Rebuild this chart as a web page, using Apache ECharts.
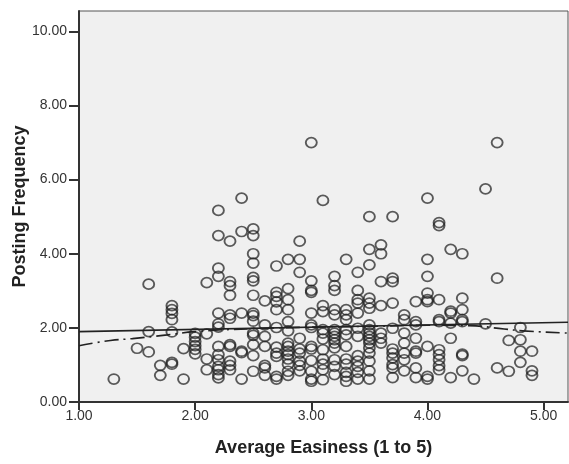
<!DOCTYPE html>
<html>
<head>
<meta charset="utf-8">
<script src="https://cdn.jsdelivr.net/npm/echarts@6/dist/echarts.min.js"></script>
<style>
html,body{margin:0;padding:0;background:#fff;}
#c{width:569px;height:464px;}
</style>
</head>
<body>
<div id="c"></div>
<script>
// Average Easiness levels (x) and the Posting Frequency values observed at each level (y)
const easinessLevels = [1.3, 1.5, 1.6, 1.7, 1.8, 1.9, 2.0, 2.1, 2.2, 2.3, 2.4, 2.5, 2.6, 2.7, 2.8, 2.9, 3.0, 3.1, 3.2, 3.3, 3.4, 3.5, 3.6, 3.7, 3.8, 3.9, 4.0, 4.1, 4.2, 4.3, 4.4, 4.5, 4.6, 4.7, 4.8, 4.9];
const postingByLevel = [
  [0.62],
  [1.45],
  [3.18, 1.90, 1.35],
  [0.99, 0.72],
  [2.60, 2.49, 2.39, 2.22, 1.89, 1.07, 1.02],
  [1.44, 0.62],
  [1.85, 1.75, 1.63, 1.52, 1.42, 1.30],
  [3.22, 1.84, 1.16, 0.87],
  [5.17, 4.49, 3.61, 3.39, 2.40, 2.11, 2.02, 1.50, 1.28, 1.14, 0.96, 0.87, 0.74, 0.65],
  [4.34, 3.25, 3.14, 2.88, 2.35, 2.26, 1.55, 1.50, 1.10, 0.99, 0.87],
  [5.50, 4.60, 2.40, 1.37, 1.33, 0.62],
  [4.67, 4.49, 4.00, 3.75, 3.36, 3.27, 2.88, 2.40, 2.33, 2.18, 1.86, 1.80, 1.55, 1.25, 0.83],
  [2.73, 2.08, 1.77, 1.50, 0.99, 0.92, 0.72],
  [3.67, 2.96, 2.85, 2.70, 2.49, 2.01, 1.48, 1.32, 1.23, 0.69, 0.62],
  [3.85, 3.06, 2.76, 2.49, 2.17, 1.92, 1.59, 1.50, 1.37, 1.28, 1.16, 1.02, 0.83, 0.72],
  [4.34, 3.85, 3.50, 1.72, 1.43, 1.32, 1.10, 0.99, 0.84],
  [7.00, 3.27, 3.01, 2.96, 2.40, 2.08, 2.01, 1.50, 1.43, 1.12, 0.83, 0.62, 0.56],
  [5.44, 2.60, 2.44, 1.95, 1.86, 1.70, 1.41, 1.16, 1.02, 0.87, 0.60],
  [3.39, 3.14, 3.01, 2.49, 2.35, 1.95, 1.86, 1.77, 1.68, 1.59, 1.46, 1.14, 0.96, 0.74],
  [3.85, 2.49, 2.35, 2.22, 1.95, 1.81, 1.50, 1.16, 1.02, 0.80, 0.69, 0.56],
  [3.50, 3.01, 2.76, 2.67, 2.40, 1.99, 1.77, 1.25, 1.10, 0.96, 0.80, 0.62],
  [5.00, 4.12, 3.70, 2.80, 2.67, 2.53, 2.08, 1.95, 1.86, 1.77, 1.68, 1.59, 1.46, 1.32, 1.10, 0.84, 0.62],
  [4.24, 4.00, 3.25, 2.60, 1.86, 1.72, 1.59],
  [5.00, 3.34, 3.25, 2.67, 1.99, 1.43, 1.32, 1.19, 1.01, 0.92, 0.66],
  [2.35, 2.22, 1.86, 1.59, 1.32, 1.14, 0.84],
  [2.71, 2.17, 2.08, 1.72, 1.37, 1.32, 0.92, 0.66],
  [5.50, 3.85, 3.39, 2.94, 2.76, 2.71, 1.50, 0.69, 0.62],
  [4.84, 4.76, 2.76, 2.22, 2.17, 1.41, 1.28, 1.14, 0.98, 0.87],
  [4.12, 2.45, 2.40, 2.13, 1.72, 0.66],
  [4.00, 2.80, 2.49, 2.22, 2.17, 1.29, 1.25, 0.84],
  [0.62],
  [5.75, 2.11],
  [7.00, 3.34, 0.92],
  [1.66, 0.83],
  [2.01, 1.68, 1.37, 1.07],
  [1.37, 0.84, 0.72]
];
// Linear fit line (solid)
const linearFitX = [1.0, 5.21];
const linearFitY = [1.90, 2.15];
// Loess fit line (dash-dot)
const loessX = [1.0, 1.27, 1.46, 1.76, 2.0, 2.5, 3.0, 3.5, 4.0, 4.35, 4.66, 4.82, 5.21];
const loessY = [1.52, 1.66, 1.71, 1.81, 1.90, 1.98, 2.02, 2.04, 2.07, 2.06, 1.97, 1.92, 1.86];
// Axis ticks
const xTicks = [1, 2, 3, 4, 5];
const yTicks = [0, 2, 4, 6, 8, 10];

const points = [];
easinessLevels.forEach((x, i) => postingByLevel[i].forEach(y => points.push([x, y])));
const zip = (a, b) => a.map((v, i) => [v, b[i]]);

const FONT = 'Liberation Sans, Arial, sans-serif';
const chart = echarts.init(document.getElementById('c'), null, {renderer: 'canvas'});
chart.setOption({
  animation: false,
  backgroundColor: '#ffffff',
  grid: {left: 79, right: 1, top: 11, bottom: 62, containLabel: false, outerBoundsMode: 'none',
         show: true, backgroundColor: '#f0f0f0', borderColor: '#555', borderWidth: 1},
  xAxis: {
    type: 'value', min: 1, max: 5.21,
    name: 'Average Easiness (1 to 5)', nameLocation: 'middle', nameGap: 37, nameMoveOverlap: false,
    nameTextStyle: {fontFamily: FONT, fontSize: 18, fontWeight: 'bold', color: '#222'},
    axisLine: {show: true, lineStyle: {color: '#333', width: 2}},
    axisTick: {show: true, length: 8, lineStyle: {color: '#333', width: 2}, customValues: xTicks},
    axisLabel: {fontFamily: FONT, fontSize: 14, color: '#333', margin: 7, customValues: xTicks, formatter: v => v.toFixed(2)},
    splitLine: {show: false}
  },
  yAxis: {
    type: 'value', min: 0, max: 10.55,
    name: 'Posting Frequency', nameLocation: 'middle', nameGap: 50, nameMoveOverlap: false,
    nameTextStyle: {fontFamily: FONT, fontSize: 18, fontWeight: 'bold', color: '#222'},
    axisLine: {show: true, lineStyle: {color: '#333', width: 2}},
    axisTick: {show: true, length: 10, lineStyle: {color: '#333', width: 2}, customValues: yTicks},
    axisLabel: {fontFamily: FONT, fontSize: 14, color: '#333', margin: 12, customValues: yTicks, formatter: v => v.toFixed(2)},
    splitLine: {show: false}
  },
  series: [
    {
      type: 'scatter', data: points, symbol: 'circle', symbolSize: [11, 10],
      itemStyle: {color: 'rgba(0,0,0,0)', borderColor: 'rgba(30,30,30,0.9)', borderWidth: 1.8},
      z: 2
    },
    {
      type: 'line', data: zip(linearFitX, linearFitY), symbol: 'none',
      lineStyle: {color: '#222', width: 1.6}, z: 3
    },
    {
      type: 'line', data: zip(loessX, loessY), symbol: 'none', smooth: true,
      lineStyle: {color: '#222', width: 1.6, type: [14, 5, 2, 5]}, z: 3
    }
  ]
});
</script>
</body>
</html>
